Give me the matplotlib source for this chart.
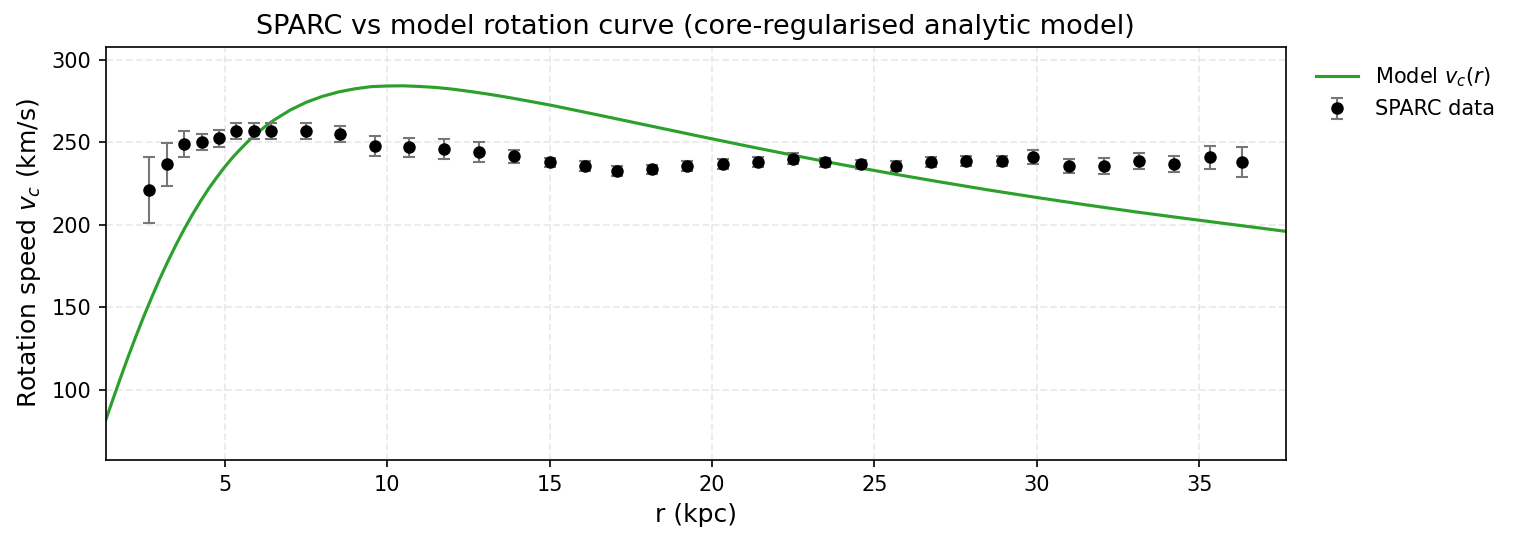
import matplotlib
matplotlib.use("Agg")
import matplotlib.pyplot as plt

# SPARC data
r_data = [2.67, 3.22, 3.75, 4.28, 4.82, 5.35, 5.89, 6.43, 7.50, 8.55,
          9.62, 10.67, 11.75, 12.83, 13.91, 15.01, 16.09, 17.07, 18.15, 19.22,
          20.34, 21.42, 22.50, 23.48, 24.59, 25.66, 26.74, 27.82, 28.93, 29.89,
          30.99, 32.07, 33.15, 34.22, 35.34, 36.33]
v_data = [221.0, 236.6, 248.8, 250.0, 252.4, 256.8, 256.8, 256.8, 256.8, 254.8,
          247.5, 246.9, 245.7, 243.9, 241.6, 237.8, 235.6, 232.5, 233.7, 235.6,
          236.8, 238.0, 240.0, 237.8, 236.6, 235.6, 238.0, 238.6, 238.6, 241.0,
          235.6, 235.6, 238.6, 236.8, 241.0, 238.0]
v_err = [20.0, 13.0, 7.8, 5.0, 5.0, 4.8, 4.8, 4.8, 4.8, 4.8,
         6.0, 5.6, 6.0, 6.0, 4.0, 2.8, 2.8, 2.8, 2.8, 2.8,
         2.8, 3.0, 3.2, 2.8, 2.8, 2.8, 2.8, 2.8, 2.8, 4.0,
         4.0, 5.0, 5.0, 4.7, 7.0, 9.0]

# model curve sampled along the reference line
r_model = [1.33, 1.5, 1.75, 2.0, 2.25, 2.5, 2.75, 3.0, 3.25, 3.5,
           3.75, 4.0, 4.25, 4.5, 4.75, 5.0, 5.25, 5.5, 5.75, 6.0,
           6.25, 6.5, 7.0, 7.5, 8.0, 8.5, 9.0, 9.5, 10.0, 10.5,
           11.0, 11.5, 12.0, 12.5, 13.0, 13.5, 14.0, 15.0, 16.5, 18.0,
           19.5, 21.0, 22.5, 24.0, 25.5, 27.0, 28.5, 30.0, 31.5, 33.0,
           34.5, 36.0, 37.66]
v_model = [81.6, 91.3, 105.3, 118.9, 131.9, 144.4, 156.2, 167.5, 178.1, 188.1,
           197.5, 206.2, 214.3, 221.9, 228.7, 235.2, 241.1, 246.3, 251.3, 255.7,
           259.7, 263.3, 269.4, 274.2, 277.8, 280.5, 282.4, 283.7, 284.1, 284.2,
           283.8, 283.2, 282.2, 280.9, 279.5, 277.9, 276.2, 272.6, 266.5, 260.3,
           254.1, 248.0, 242.1, 236.4, 231.1, 226.0, 221.1, 216.5, 212.1, 207.9,
           204.0, 200.2, 196.0]

fig = plt.figure(figsize=(1517 / 150, 542 / 150), dpi=150)
ax = fig.add_axes([0.0697, 0.1513, 0.7778, 0.7625])

ax.plot(r_model, v_model, color="#2ca02c", lw=1.5, label=r"Model $v_c(r)$")
ax.errorbar(r_data, v_data, yerr=v_err, fmt="o", color="black", ms=5,
            ecolor="#777777", elinewidth=1, capsize=3, capthick=1,
            label="SPARC data")

ax.set_xlim(1.33, 37.66)
ax.set_ylim(57.4, 307.9)
ax.set_xticks([5, 10, 15, 20, 25, 30, 35])
ax.set_yticks([100, 150, 200, 250, 300])
ax.grid(True, linestyle="--", color="#d8d8d8", alpha=0.5, lw=0.9)

ax.set_title("SPARC vs model rotation curve (core-regularised analytic model)", fontsize=13)
ax.set_xlabel("r (kpc)", fontsize=12)
ax.set_ylabel(r"Rotation speed $v_c$ (km/s)", fontsize=12)

ax.legend(loc="upper left", bbox_to_anchor=(1.01, 1.0), frameon=False, fontsize=10)

fig.savefig("out.png", dpi=150)
